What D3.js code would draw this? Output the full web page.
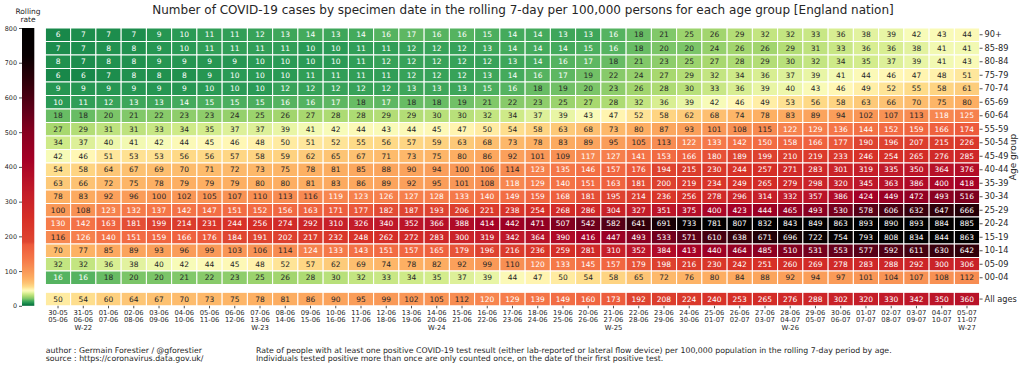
<!DOCTYPE html>
<html><head><meta charset="utf-8">
<script src="https://cdn.jsdelivr.net/npm/d3@7"></script>
<style>body{margin:0;background:#fff} text{font-family:"DejaVu Sans",sans-serif}</style>
</head><body><svg id="c" width="1024" height="367"></svg>
<script>
const ageGroups = ["90+","85-89","80-84","75-79","70-74","65-69","60-64","55-59","50-54","45-49","40-44","35-39","30-34","25-29","20-24","15-19","10-14","05-09","00-04"];
const periodStart = ["30-05","31-05","01-06","02-06","03-06","04-06","05-06","06-06","07-06","08-06","09-06","10-06","11-06","12-06","13-06","14-06","15-06","16-06","17-06","18-06","19-06","20-06","21-06","22-06","23-06","24-06","25-06","26-06","27-06","28-06","29-06","30-06","01-07","02-07","03-07","04-07","05-07"];
const periodEnd = ["05-06","06-06","07-06","08-06","09-06","10-06","11-06","12-06","13-06","14-06","15-06","16-06","17-06","18-06","19-06","20-06","21-06","22-06","23-06","24-06","25-06","26-06","27-06","28-06","29-06","30-06","01-07","02-07","03-07","04-07","05-07","06-07","07-07","08-07","09-07","10-07","11-07"];
const weekTags = ["","W-22","","","","","","","W-23","","","","","","","W-24","","","","","","","W-25","","","","","","","W-26","","","","","","","W-27"];
const colorbarTicks = [0,100,200,300,400,500,600,700,800];

const age90plus = [6,7,7,7,9,10,11,11,12,13,14,13,14,16,17,16,16,15,14,14,13,13,16,18,21,25,26,29,32,32,33,36,38,39,42,43,44];
const age85_89 = [7,7,8,8,9,10,11,11,11,11,10,10,11,11,12,12,12,13,14,14,14,15,16,18,20,20,24,26,26,29,31,33,36,36,38,41,41];
const age80_84 = [8,7,8,8,9,9,9,9,10,10,10,10,11,12,12,12,12,12,13,14,16,17,18,21,23,25,27,28,29,30,32,34,35,37,39,41,43];
const age75_79 = [6,6,7,8,8,8,9,10,10,10,11,11,11,11,12,12,12,13,14,16,17,19,22,24,27,29,32,34,36,37,39,41,44,46,47,48,51];
const age70_74 = [9,9,9,9,9,9,10,10,10,12,12,12,12,12,13,13,13,15,16,18,19,20,23,26,28,30,33,36,39,40,43,46,49,52,55,58,61];
const age65_69 = [10,11,12,13,13,14,15,15,15,16,16,17,18,17,18,18,19,21,22,23,25,27,28,32,36,39,42,46,49,53,56,58,63,66,70,75,80];
const age60_64 = [18,18,20,21,22,23,23,24,25,26,27,28,28,29,29,30,30,32,34,37,39,43,47,52,58,62,68,74,78,83,89,94,102,107,113,118,125];
const age55_59 = [27,29,31,31,33,34,35,37,37,39,41,42,44,43,44,45,47,50,54,58,63,68,73,80,87,93,101,108,115,122,129,136,144,152,159,166,174];
const age50_54 = [34,37,40,41,42,44,45,46,48,50,51,52,55,56,57,59,63,68,73,78,83,89,95,105,113,122,133,142,150,158,166,177,190,196,207,215,226];
const age45_49 = [42,46,51,53,53,56,56,57,58,59,62,65,67,71,73,75,80,86,92,101,109,117,127,141,153,166,180,189,199,210,219,233,246,254,265,276,285];
const age40_44 = [54,58,64,67,69,70,71,72,73,75,78,81,85,88,90,94,100,106,114,123,135,146,157,176,194,215,230,244,257,271,283,301,319,335,350,364,376];
const age35_39 = [63,66,72,75,78,79,79,79,80,80,81,83,86,89,92,95,101,108,118,129,140,151,163,181,200,219,234,249,265,279,298,320,345,363,386,400,418];
const age30_34 = [78,83,92,96,100,102,105,107,110,113,116,119,123,126,127,128,133,140,149,159,168,181,195,214,236,256,278,296,314,332,357,386,424,449,472,493,516];
const age25_29 = [100,108,123,132,137,142,147,151,152,156,163,171,177,182,187,193,206,221,238,254,268,286,304,327,351,375,400,423,444,465,493,530,578,606,632,647,666];
const age20_24 = [130,142,163,181,199,214,231,244,256,274,292,310,326,340,352,366,388,414,442,471,507,542,582,641,691,733,781,807,832,843,849,863,893,890,893,884,885];
const age15_19 = [116,126,140,151,159,166,176,184,191,202,217,232,248,262,272,283,300,319,342,364,390,416,447,493,533,571,610,638,671,696,722,754,793,808,834,844,863];
const age10_14 = [70,77,85,89,93,96,99,103,106,114,124,133,143,151,157,165,179,196,216,236,259,281,310,352,384,413,440,464,485,510,531,553,577,592,611,630,642];
const age05_09 = [32,32,36,38,40,42,44,45,48,52,57,62,69,74,78,82,92,99,110,120,133,145,157,179,198,216,230,242,251,260,269,278,283,288,292,300,306];
const age00_04 = [16,16,18,20,20,21,22,23,25,26,28,30,32,33,34,35,37,39,44,47,50,54,58,65,72,76,80,84,88,92,94,97,101,104,107,108,112];
const allAges = [50,54,60,64,67,70,73,75,78,81,86,90,95,99,102,105,112,120,129,139,149,160,173,192,208,224,240,253,265,276,288,302,320,330,342,350,360];

const ageRows = [age90plus,age85_89,age80_84,age75_79,age70_74,age65_69,age60_64,age55_59,age50_54,age45_49,age40_44,age35_39,age30_34,age25_29,age20_24,age15_19,age10_14,age05_09,age00_04];

const W=1024,H=367;
const svg=d3.select("#c");
svg.append("rect").attr("width",W).attr("height",H).attr("fill","#fff");

const stops=[[0,"#006837"],[5,"#148447"],[10,"#2a9a55"],[15,"#4bae5e"],[20,"#7bc568"],[27,"#a8d86f"],[35,"#d3ec8c"],[42,"#f7fbb8"],[46,"#fff7b5"],[55,"#fedb88"],[65,"#fdc474"],[78,"#fdb063"],[95,"#fa9d59"],[115,"#f78a51"],[135,"#f57748"],[160,"#f06540"],[176,"#ec5a3b"],[184,"#df4631"],[250,"#d73027"],[330,"#c21b29"],[420,"#a50026"],[500,"#870020"],[560,"#62001a"],[640,"#33000a"],[720,"#080001"],[800,"#000000"]];
const color=d3.scaleLinear().domain(stops.map(s=>s[0])).range(stops.map(s=>s[1])).interpolate(d3.interpolateRgb).clamp(true);
const textCol=v=>(v<=17||v>=117)?"#ffffff":"#262626";

const x=d3.scaleBand().domain(d3.range(periodStart.length)).range([45.4,979.6]);
const y=d3.scaleBand().domain(ageGroups).range([28,284.5]);
const yAll=d3.scaleBand().domain(["All ages"]).range([292.3,305.8]);

function drawRow(vals,yPos,h){
  const g=svg.append("g");
  g.selectAll("rect").data(vals).join("rect")
    .attr("x",(d,i)=>x(i)).attr("y",yPos).attr("width",x.bandwidth()).attr("height",h)
    .attr("fill",d=>color(d)).attr("stroke","#fff").attr("stroke-width",1);
  g.selectAll("text").data(vals).join("text")
    .attr("x",(d,i)=>x(i)+x.bandwidth()/2).attr("y",yPos+h/2).attr("dy","0.36em")
    .attr("text-anchor","middle").attr("font-size",7.5).attr("fill",d=>textCol(d)).text(d=>d);
}
ageRows.forEach((r,i)=>drawRow(r,y(ageGroups[i]),y.bandwidth()));
drawRow(allAges,yAll("All ages"),yAll.bandwidth());

function styleAxis(g,fs){
  g.select(".domain").remove();
  g.selectAll(".tick line").attr("stroke","#262626").attr("stroke-width",0.8);
  g.selectAll(".tick text").attr("fill","#262626").attr("font-size",fs).attr("font-family","DejaVu Sans");
}
const ya=svg.append("g").attr("transform","translate(979.6,0)").call(d3.axisRight(y).tickSize(3).tickPadding(2));
styleAxis(ya,8.2);
const ya2=svg.append("g").attr("transform","translate(979.6,0)").call(d3.axisRight(yAll).tickSize(3).tickPadding(2));
styleAxis(ya2,8.2);

const xa=svg.append("g").attr("transform","translate(0,305.8)").call(d3.axisBottom(x).tickSize(2.5).tickFormat(""));
styleAxis(xa,6.8);
xa.selectAll(".tick").each(function(d){
  const t=d3.select(this).append("text").attr("fill","#262626").attr("font-size",6.8).attr("text-anchor","middle");
  t.append("tspan").attr("x",0).attr("y",9.3).text(periodStart[d]);
  t.append("tspan").attr("x",0).attr("y",16.6).text(periodEnd[d]);
  if(weekTags[d]) t.append("tspan").attr("x",0).attr("y",24).text(weekTags[d]);
});

// colorbar
const cb=d3.scaleLinear().domain([0,800]).range([305.8,28]);
const defs=svg.append("defs");
const grad=defs.append("linearGradient").attr("id","cbg").attr("x1",0).attr("y1",1).attr("x2",0).attr("y2",0);
d3.range(0,801,4).forEach(v=>grad.append("stop").attr("offset",v/800).attr("stop-color",color(v)));
svg.append("rect").attr("x",22).attr("y",28).attr("width",12.3).attr("height",305.8-28).attr("fill","url(#cbg)");
const ca=svg.append("g").attr("transform","translate(22,0)").call(d3.axisLeft(cb).tickValues(colorbarTicks).tickSize(3).tickPadding(2));
styleAxis(ca,6.4);

const lab=svg.append("text").attr("font-size",7.5).attr("fill","#262626").attr("text-anchor","middle");
lab.append("tspan").attr("x",28).attr("y",14.3).text("Rolling");
lab.append("tspan").attr("x",28).attr("y",22.3).text("rate");

svg.append("text").attr("transform","translate(1016,157) rotate(-90)").attr("text-anchor","middle")
  .attr("font-size",9).attr("fill","#262626").text("Age group");

svg.append("text").attr("x",523).attr("y",13.8).attr("text-anchor","middle").attr("font-size",12).attr("fill","#262626")
  .text("Number of COVID-19 cases by specimen date in the rolling 7-day per 100,000 persons for each age group [England nation]");

const f1=svg.append("text").attr("font-size",7.8).attr("fill","#262626");
f1.append("tspan").attr("x",45.7).attr("y",352.8).text("author : Germain Forestier / @gforestier");
f1.append("tspan").attr("x",45.7).attr("y",361.2).text("source : https://coronavirus.data.gov.uk/");
const f2=svg.append("text").attr("font-size",7.8).attr("fill","#262626");
f2.append("tspan").attr("x",256).attr("y",352.8).text("Rate of people with at least one positive COVID-19 test result (either lab-reported or lateral flow device) per 100,000 population in the rolling 7-day period by age.");
f2.append("tspan").attr("x",256).attr("y",361.2).text("Individuals tested positive more than once are only counted once, on the date of their first positive test.");
</script></body></html>
